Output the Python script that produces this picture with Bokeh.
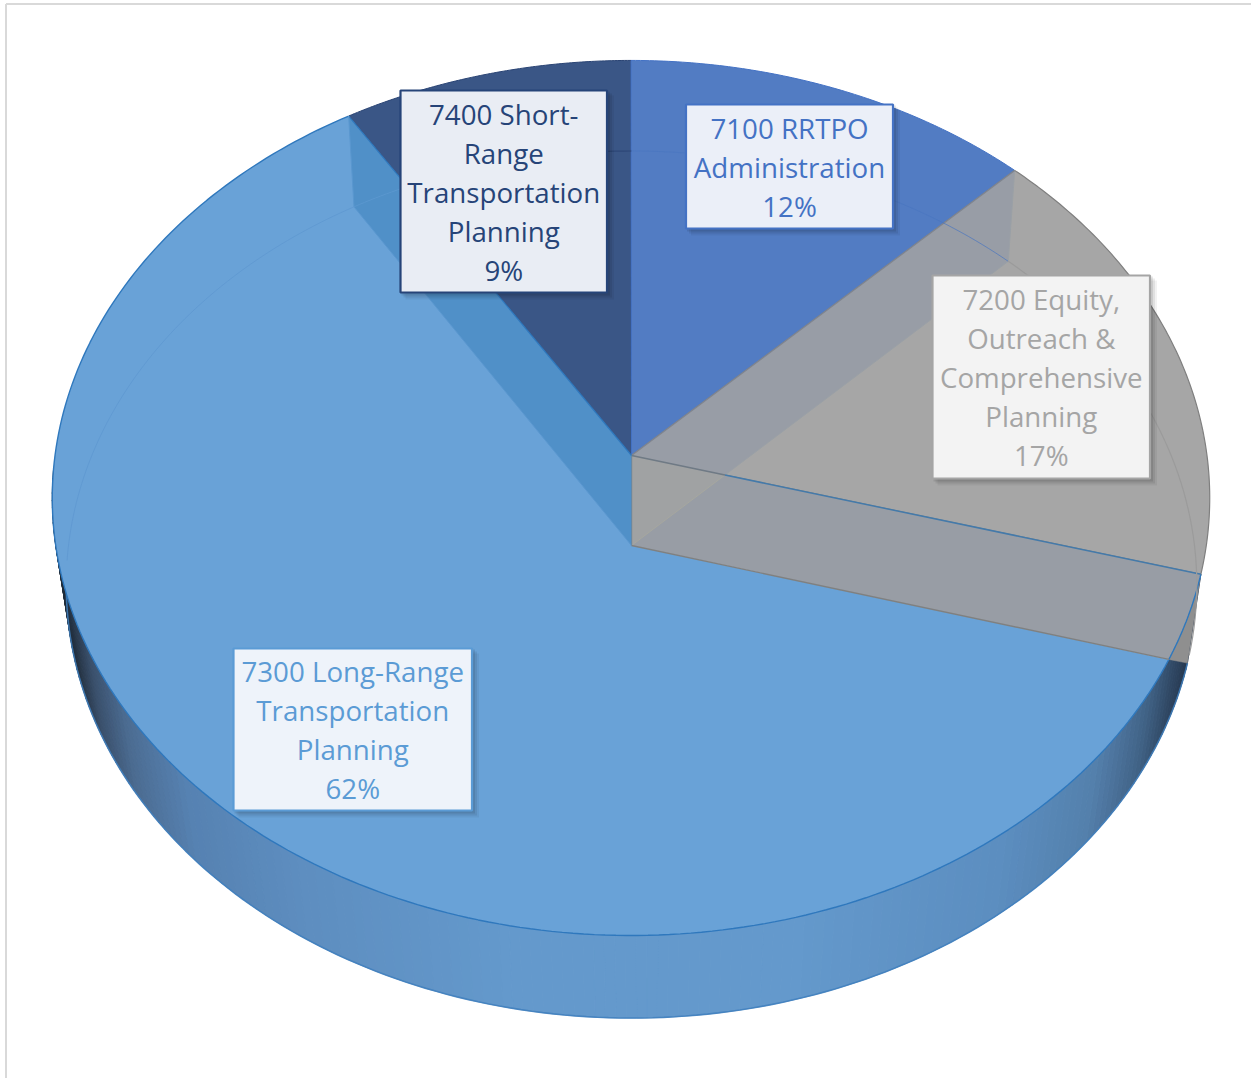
import numpy as np
from bokeh.plotting import figure
from bokeh.models import Range1d
from bokeh.core.properties import value
from bokeh.embed import file_html
from bokeh.resources import INLINE

# ---- data ----
categories = ["7100 RRTPO Administration", "7200 Equity, Outreach & Comprehensive Planning",
              "7300 Long-Range Transportation Planning", "7400 Short-Range Transportation Planning"]
shares = [12.6, 16.7, 61.8, 8.9]
percent_labels = ["12%", "17%", "62%", "9%"]
label_lines = [["7100 RRTPO", "Administration"],
               ["7200 Equity,", "Outreach &", "Comprehensive", "Planning"],
               ["7300 Long-Range", "Transportation", "Planning"],
               ["7400 Short-", "Range", "Transportation", "Planning"]]
text_colors = ["#4472c4", "#a5a5a5", "#5b9bd5", "#264478"]
border_colors = ["#4472c4", "#a5a5a5", "#5b9bd5", "#264478"]
box_fills = ["#ebeff8", "#f3f3f3", "#eef3fa", "#e9edf4"]
boxes = [(685.5, 892.5, 104, 228), (932, 1149.5, 275, 478), (233, 471.5, 648, 810), (400, 606.5, 90, 292)]

W, H = 1251, 1078
p = figure(width=W, height=H, output_backend="svg", toolbar_location=None,
           x_range=Range1d(0, W), y_range=Range1d(H, 0), min_border=0,
           background_fill_color="white", border_fill_color="white", outline_line_color=None)
p.axis.visible = False
p.grid.visible = False

# perspective disc projection
def disc(theta, cy, a, b, k, cx=631.0):
    t = np.radians(theta)
    u, v = np.sin(t), np.cos(t)
    d = 1 + k * v
    return cx + a * u / d, cy - b * v / d

def top(t):
    return disc(t, 455.0, 576.0, 433.4, 0.097, cx=630.5)

def bot(t):
    return disc(t, 545.0, 563.0, 430.0, 0.09)

APEX_T = (631.0, 455.0)
APEX_B = (631.0, 545.0)

edges = np.cumsum([0] + shares) * 3.6
t0, t1, t2, t3, t4 = edges

def arc(fn, a, b, n=90):
    return fn(np.linspace(a, b, n))

# angle on the upper rim where the lower cut line leaves the pie
ex, ey = bot(t2)
probe = np.linspace(t2, t2 + 40, 800)
px, py = top(probe)
side = (ex - APEX_B[0]) * (py - APEX_B[1]) - (ey - APEX_B[1]) * (px - APEX_B[0])
tc = probe[np.argmax(side > 0)]
cx_pt = top(tc)

# ---- outer wall with its horizontal shading ----
stop_x = [55, 72, 95, 130, 190, 300, 500, 800, 1000, 1090, 1140, 1170, 1190]
stop_r = [30, 36, 58, 76, 86, 94, 100, 100, 92, 84, 66, 48, 38]
stop_g = [42, 50, 80, 108, 130, 142, 153, 153, 142, 128, 100, 72, 56]
stop_b = [54, 66, 108, 146, 178, 192, 204, 204, 192, 172, 136, 100, 80]
wall_t = np.linspace(t2, 268, 170)
xs, ys, cols = [], [], []
for a, b in zip(wall_t[:-1], wall_t[1:]):
    xa, ya = top(np.array([a, b]))
    xb, yb = bot(np.array([b, a]))
    mx = (xa.mean() + xb.mean()) / 2
    r, g, bl = (int(np.interp(mx, stop_x, s)) for s in (stop_r, stop_g, stop_b))
    cols.append(f"#{r:02x}{g:02x}{bl:02x}")
    xs.append(list(xa) + list(xb))
    ys.append(list(ya) + list(yb))
p.patches(xs, ys, fill_color=cols, line_color=cols, line_width=1)
bx, by = arc(bot, t2, 268, 160)
p.line(bx, by, line_color="#3f7fbd", line_width=1.6, line_alpha=0.85)

# ---- dark, mid-blue and gray top faces ----
x, y = arc(top, t3, t4)
p.patch([APEX_T[0], *x], [APEX_T[1], *y], fill_color="#3a5686", line_color="#2a4474", line_width=1)
x, y = arc(top, t0, t1)
p.patch([APEX_T[0], *x], [APEX_T[1], *y], fill_color="#527cc3", line_color="#4472c4", line_width=1)
x, y = arc(top, t1, t2)
p.patch([APEX_T[0], *x], [APEX_T[1], *y], fill_color="#a6a6a6", line_color="#7f7f7f", line_width=1.2)

# gray sliver at the right end of the wall
x1, y1 = arc(top, t2, tc, 20)
p.patch([*x1, ex], [*y1, ey], fill_color="#8f8f8f", line_color="#8f8f8f", line_width=0.5)

# inner wall of the gray slice behind the 7100 cut
gx, gy = bot(t1)
tx, ty = top(t1)
ax, ay = top(t2)
# crossing of (bot t1 -> lower apex) and (upper apex -> rim t2)
A = np.array([[APEX_B[0] - gx, -(ax - APEX_T[0])], [APEX_B[1] - gy, -(ay - APEX_T[1])]])
s_ = np.linalg.solve(A, np.array([APEX_T[0] - gx, APEX_T[1] - gy]))
kx, ky = gx + s_[0] * (APEX_B[0] - gx), gy + s_[0] * (APEX_B[1] - gy)
p.patch([APEX_T[0], tx, gx, kx], [APEX_T[1], ty, gy, ky], fill_color="#989da6", line_color=None)
p.line([tx, gx, kx], [ty, gy, ky], line_color="#9aa0a6", line_width=1)
p.line([APEX_T[0], tx], [APEX_T[1], ty], line_color="#7f8590", line_width=1.2)

# ---- large slice ----
x, y = arc(top, tc, t3, 220)
p.patch([APEX_B[0], *x, APEX_T[0]], [APEX_B[1], *y, APEX_T[1]], fill_color="#69a2d7", line_color=None)
p.line(x, y, line_color="#2f78bd", line_width=1.4)

# its right inner wall
x, y = arc(top, t2, tc, 30)
p.patch([APEX_T[0], APEX_B[0], *x[::-1]], [APEX_T[1], APEX_B[1], *y[::-1]],
        fill_color="#989da5", line_color=None)
p.line(x, y, line_color="#2f78bd", line_width=1.4)
p.patch([APEX_T[0], APEX_B[0], kx], [APEX_T[1], APEX_B[1], ky], fill_color="#a0a2a3", line_color=None)
p.line([APEX_B[0], kx], [APEX_B[1], ky], line_color="#a6a79f", line_width=1)
p.line([APEX_T[0], APEX_B[0], cx_pt[0]], [APEX_T[1], APEX_B[1], cx_pt[1]], line_color="#7f8080", line_width=1.4)
p.line([APEX_T[0], kx], [APEX_T[1], ky], line_color="#6f7a85", line_width=1.5)
p.line([kx, ax], [ky, ay], line_color="#447aaa", line_width=1.5)

# its left inner wall
lx, ly = bot(t3)
rx, ry = top(t3)
p.patch([rx, APEX_T[0], APEX_B[0], lx], [ry, APEX_T[1], APEX_B[1], ly], fill_color="#5090c8", line_color=None)
p.line([rx, APEX_T[0]], [ry, APEX_T[1]], line_color="#2f78bd", line_width=1.2)
p.line([rx, lx, APEX_B[0]], [ry, ly, APEX_B[1]], line_color="#5a97cf", line_width=1)

# faint lines of the lower disc seen through the faces
x, y = arc(bot, t3 + 6, t4, 30)
p.line(x, y, line_color="#2a4474", line_width=1.2, line_alpha=0.8)
x, y = arc(bot, t3, t3 + 6, 10)
p.line(x, y, line_color="#5a97cf", line_width=1)
x, y = arc(bot, t0, t1, 50)
p.line(x, y, line_color="#4a76c0", line_width=1, line_alpha=0.7)
x, y = arc(bot, t1, t2 - 1, 50)
p.line(x, y, line_color="#9b9b9b", line_width=1.2)
x, y = arc(bot, 268, t3, 70)
p.line(x, y, line_color="#619ad2", line_width=1.0)

# ---- labels ----
for (x0, x1_, y0, y1_), fill, edge, col, lines, pct in zip(boxes, box_fills, border_colors,
                                                             text_colors, label_lines, percent_labels):
    for off, al in ((7, 0.05), (5, 0.07), (3, 0.09)):
        p.quad(left=x0 + off - 2, right=x1_ + off, top=y0 + off - 2, bottom=y1_ + off,
               fill_color="black", fill_alpha=al, line_color=None)
    p.quad(left=x0, right=x1_, top=y0, bottom=y1_, fill_color=fill, line_color=edge, line_width=2.2)
    rows = lines + [pct]
    yc0 = (y0 + y1_) / 2 - (len(rows) - 1) * 39 / 2
    p.text([(x0 + x1_) / 2] * len(rows), [yc0 + i * 39 for i in range(len(rows))], text=rows,
           text_font=value("Open Sans"), text_font_size="27.7px", text_color=col,
           text_align="center", text_baseline="middle")

# ---- chart-area border ----
p.line([5.5, 5.5], [3.5, H], line_color="#d9d9d9", line_width=2)
p.line([5.5, W], [3.5, 3.5], line_color="#d9d9d9", line_width=2)

open("out.html", "w").write(file_html(p, INLINE))
